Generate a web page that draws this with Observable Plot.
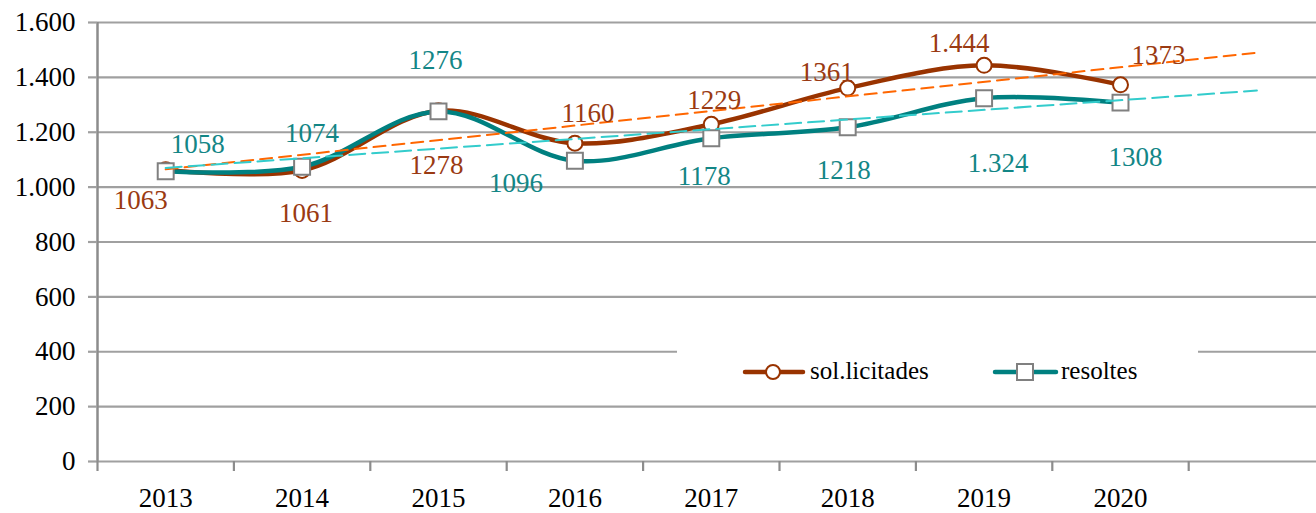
<!DOCTYPE html>
<html>
<head>
<meta charset="utf-8">
<script src="https://cdn.jsdelivr.net/npm/d3@7"></script>
<script src="https://cdn.jsdelivr.net/npm/@observablehq/plot@0.6"></script>
<style>
  html, body { margin: 0; padding: 0; background: white; font-family: "Liberation Serif", serif; }
  #wrap { position: relative; width: 1316px; height: 513px; }
  #legend { position: absolute; left: 677px; top: 333px; width: 521px; height: 68px; background: white; }
  #legend svg { display: block; position: absolute; left: 0; top: 0; }
  .lgtext { position: absolute; top: 20px; font-size: 25px; line-height: 36px; color: black; font-family: "Liberation Serif", serif; }
</style>
</head>
<body>
<div id="wrap"><div id="legend"></div></div>
<script>
// ---- data ----
const years = [2013, 2014, 2015, 2016, 2017, 2018, 2019, 2020];
const sollicitades = [1063, 1061, 1278, 1160, 1229, 1361, 1444, 1373];
const resoltes = [1058, 1074, 1276, 1096, 1178, 1218, 1324, 1308];
const sollicitadesLabels = ["1063", "1061", "1278", "1160", "1229", "1361", "1.444", "1373"];
const resoltesLabels = ["1058", "1074", "1276", "1096", "1178", "1218", "1.324", "1308"];
// linear trend lines (start 2013, end 2021)
const trendYears = [2013, 2021];
const sollicitadesTrend = [1065, 1490];
const resoltesTrend = [1070, 1352];
const yTicks = [0, 200, 400, 600, 800, 1000, 1200, 1400, 1600];
const seriesNames = ["sol.licitades", "resoltes"];

// ---- label offsets (px) ----
const solOffsets = [[-25, 31], [4, 43], [-2, 55], [13, -30], [3, -24], [-21, -16], [-25, -22], [38, -29]];
const resOffsets = [[32, -27], [10, -33], [-3, -51], [-59, 23], [-7, 38], [-4, 43], [14, 65], [15, 55]];

// ---- build tables ----
const solData = years.map((y, i) => ({year: y, value: sollicitades[i], label: sollicitadesLabels[i]}));
const resData = years.map((y, i) => ({year: y, value: resoltes[i], label: resoltesLabels[i]}));
const solTrend = trendYears.map((y, i) => ({year: y, value: sollicitadesTrend[i]}));
const resTrend = trendYears.map((y, i) => ({year: y, value: resoltesTrend[i]}));
const boundaries = d3.range(years[0] - 0.5, years[years.length - 1] + 0.51, 1);

const fmt = d3.formatLocale({decimal: ",", thousands: ".", grouping: [3], currency: ["", "€"]}).format(",d");

const SOL = "#993300", SOL_LBL = "#9A3A12";
const RES = "#008080", RES_LBL = "#138686";
const GRID = "#A0A0A0";
const font = '"Liberation Serif", serif';

const labelMarks = [];
solData.forEach((d, i) => labelMarks.push(Plot.text([d], {x: "year", y: "value", text: "label", dx: solOffsets[i][0], dy: solOffsets[i][1], fill: SOL_LBL, fontSize: 27})));
resData.forEach((d, i) => labelMarks.push(Plot.text([d], {x: "year", y: "value", text: "label", dx: resOffsets[i][0], dy: resOffsets[i][1], fill: RES_LBL, fontSize: 27})));

const chart = Plot.plot({
  width: 1316,
  height: 513,
  marginLeft: 97,
  marginRight: 0,
  marginTop: 22,
  marginBottom: 52,
  x: {type: "linear", domain: [2012.5, 2012.5 + 1219 / 136.4], label: null},
  y: {domain: [0, 1600], label: null},
  style: {fontFamily: font, fontSize: "27px", background: "white", color: "black"},
  marks: [
    Plot.ruleY(yTicks, {stroke: GRID, strokeWidth: 2.2}),
    Plot.ruleX([2012.5], {stroke: "#8C8C8C", strokeWidth: 2.5}),
    Plot.axisY({ticks: yTicks, tickSize: 9, tickPadding: 13, tickFormat: fmt, stroke: GRID, strokeWidth: 2.2, fill: "black", fontSize: 27, label: null}),
    Plot.axisX({ticks: boundaries, tickSize: 10, tickFormat: () => "", stroke: "#8C8C8C", strokeWidth: 2.2, label: null}),
    Plot.axisX({ticks: years, tickSize: 0, tickPadding: 26, tickFormat: d => String(d), fill: "black", fontSize: 27, label: null}),
    Plot.line(solData, {x: "year", y: "value", curve: "catmull-rom", stroke: SOL, strokeWidth: 4.5}),
    Plot.dot(solData, {x: "year", y: "value", r: 7.5, fill: "white", stroke: SOL, strokeWidth: 2}),
    Plot.line(resData, {x: "year", y: "value", curve: "catmull-rom", stroke: RES, strokeWidth: 4.5}),
    Plot.dot(resData, {x: "year", y: "value", symbol: "square", r: 9, fill: "white", stroke: "#808080", strokeWidth: 2}),
    Plot.line(solTrend, {x: "year", y: "value", stroke: "#FF6600", strokeWidth: 2, strokeDasharray: "12,7"}),
    Plot.line(resTrend, {x: "year", y: "value", stroke: "#33CCCC", strokeWidth: 2, strokeDasharray: "16,7"}),
    ...labelMarks
  ]
});
d3.select(chart).selectAll("text").style("font-family", font);
document.getElementById("wrap").insertBefore(chart, document.getElementById("legend"));

// ---- legend ----
const lg = d3.select("#legend").append("svg").attr("width", 521).attr("height", 68);
const cy = 39;
lg.append("line").attr("x1", 68).attr("x2", 126).attr("y1", cy).attr("y2", cy).attr("stroke", SOL).attr("stroke-width", 4.5).attr("stroke-linecap", "round");
lg.append("circle").attr("cx", 96).attr("cy", cy).attr("r", 7).attr("fill", "white").attr("stroke", SOL).attr("stroke-width", 2);
lg.append("line").attr("x1", 318).attr("x2", 379).attr("y1", cy).attr("y2", cy).attr("stroke", RES).attr("stroke-width", 4.5).attr("stroke-linecap", "round");
lg.append("rect").attr("x", 340).attr("y", cy - 8).attr("width", 16).attr("height", 16).attr("fill", "white").attr("stroke", "#808080").attr("stroke-width", 2);
d3.select("#legend").append("div").attr("class", "lgtext").style("left", "133px").text(seriesNames[0]);
d3.select("#legend").append("div").attr("class", "lgtext").style("left", "384px").text(seriesNames[1]);
</script>
</body>
</html>
